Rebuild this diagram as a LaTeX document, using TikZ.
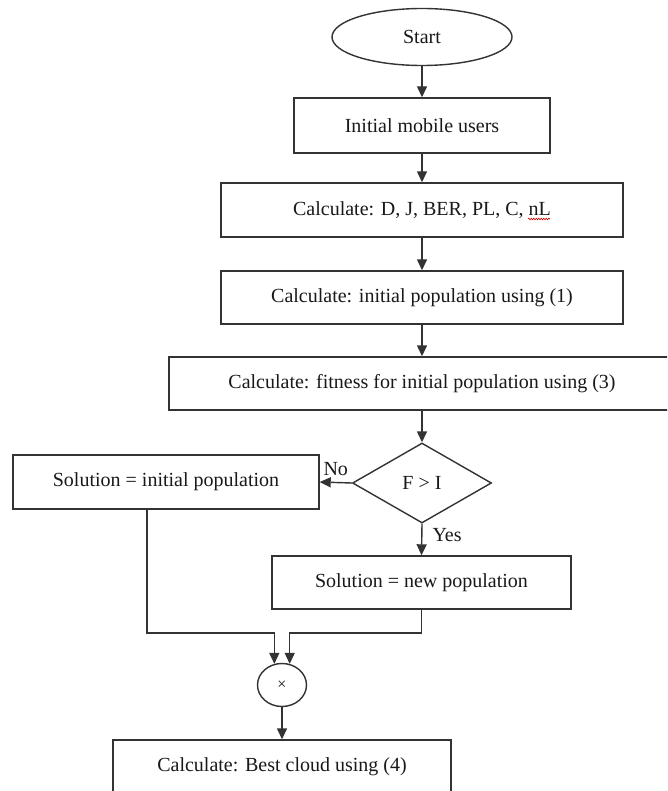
\documentclass[tikz,border=0pt]{standalone}
\usepackage{fontspec}
\setmainfont{Liberation Serif}
\usetikzlibrary{arrows.meta,shapes.geometric,decorations.pathmorphing}
\begin{document}
\begin{tikzpicture}[x=1pt,y=-1pt,
  every node/.style={font=\fontsize{20}{24}\selectfont, text=black!90},
  line/.style={draw=black!80, line width=1.4pt},
  arr/.style={line, -{Triangle[length=11pt,width=10pt]}},
  box/.style={line, rectangle, minimum height=54pt, inner sep=0pt},
  lbl/.style={inner sep=3pt}
]
\useasboundingbox (0,0) rectangle (667,791);
\clip (0,0) rectangle (667,791);
\fill[white] (0,0) rectangle (667,791);

\node[ellipse, line, minimum width=180pt, minimum height=57pt, inner sep=0pt] (start) at (422,37) {Start};
\node[box, minimum width=256pt, minimum height=55pt] (b1) at (422,125.5) {Initial mobile users};
\node[box, minimum width=402pt] (b2) at (422,210) {Calculate: D, J, BER, PL, C, nL};
\node[box, minimum width=402pt, minimum height=53pt] (b3) at (422,297.5) {Calculate: initial population using (1)};
\node[box, minimum width=506pt, minimum height=53pt] (b4) at (422,383.5) {Calculate: fitness for initial population using (3)};
\node[diamond, line, minimum width=139pt, minimum height=80pt, inner sep=0pt, aspect=1.74] (dec) at (422,483) {F > I};
\node[box, minimum width=306pt] (bl) at (166,482) {Solution = initial population};
\node[box, minimum width=299pt, minimum height=53pt] (br) at (421.5,582.5) {Solution = new population};
\node[ellipse, line, minimum width=49pt, minimum height=43pt, inner sep=0pt] (circ) at (282,685) {\fontsize{16}{16}\selectfont ×};
\node[box, minimum width=338pt] (last) at (282,767) {\raisebox{5pt}{Calculate: Best cloud using (4)}};

\coordinate (jn) at (0,633);

\draw[arr] (start) -- (b1);
\draw[arr] (b1) -- (b2);
\draw[arr] (b2) -- (b3);
\draw[arr] (b3) -- (b4);
\draw[arr] (b4) -- (dec);
\draw[arr] (dec.west) -- node[lbl, above=3pt] (no) {No} (bl.east);
\draw[arr] (dec.south) -- node[lbl, pos=0.35, right=7pt] (yes) {Yes} (br.north);
\draw[arr] ([xshift=-19pt]bl.south) |- (circ.110 |- jn) -- (circ.110);
\draw[arr] (br.south) |- (circ.70 |- jn) -- (circ.70);
\draw[arr] (circ) -- (last);

\draw[red!80!black, line width=0.6pt, decorate, decoration={snake, amplitude=0.8pt, segment length=2.5pt}] (528,219) -- (550,219);
\end{tikzpicture}
\end{document}
